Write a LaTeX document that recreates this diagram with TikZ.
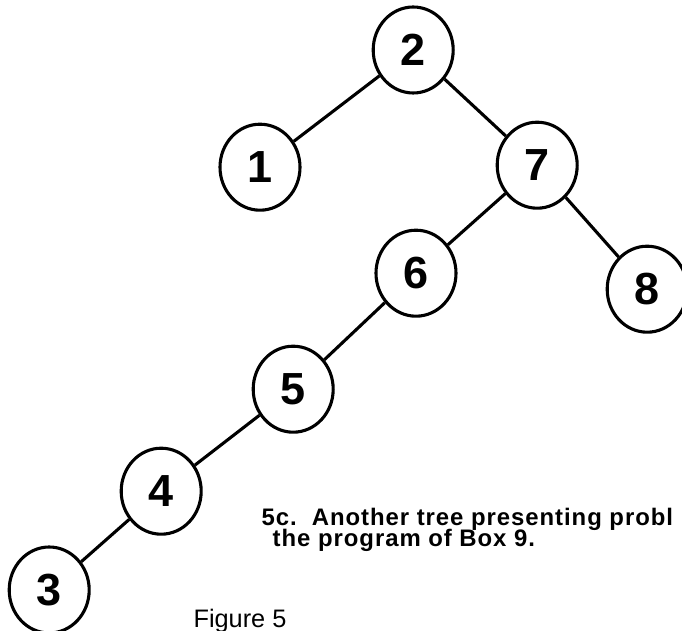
\documentclass[tikz,border=0pt]{standalone}
\usepackage{fontspec}
\setmainfont{Liberation Sans}
\newfontfamily\capfont[LetterSpace=4]{Liberation Sans}
\usetikzlibrary{shapes.geometric}
\tikzset{ c/.style = { inner sep = 0pt % caption line
        , font = \capfont\fontsize{17}{17}\selectfont\bfseries
        , anchor = base west
        }
        , f/.style = { inner sep = 0pt % figure number
        , font = \fontsize{18}{18}\selectfont
        , anchor = base west
        }
        }

\begin{document}
\begin{tikzpicture}[line width=2.2pt,
        node_style/.style={ellipse,draw=black,minimum width=2cm,minimum height=2.15cm,inner sep=0pt,font=\fontsize{32}{32}\selectfont\bfseries},
        edge_style/.style={draw=black,line width=2.2pt}]
        \useasboundingbox (0,0) rectangle (17.05,-15.775);

        \node [node_style](n2) at (10.33,-1.25) {2};
        \node [node_style](n1) at (6.50,-4.18) {1};
        \node [node_style](n7) at (13.43,-4.13) {7};
        \node [node_style](n6) at (10.40,-6.83) {6};
        \node [node_style](n8) at (16.18,-7.23) {8};
        \node [node_style](n5) at (7.33,-9.73) {5};
        \node [node_style](n4) at (4.03,-12.28) {4};
        \node [node_style](n3) at (1.23,-14.75) {3};

        \draw [edge_style] (n2) -- (n1);
        \draw [edge_style] (n2) -- (n7);
        \draw [edge_style] (n7) -- (n6);
        \draw [edge_style] (n7) -- (n8);
        \draw [edge_style] (n6) -- (n5);
        \draw [edge_style] (n5) -- (n4);
        \draw [edge_style] (n4) -- (n3);

        \node [c](cap1) at (6.50,-13.13) {5c.\ \ Another tree presenting probl};
        \node [c](cap2) at (6.78,-13.66) {the program of Box 9.};
        \node [f](fig) at (4.80,-15.70) {Figure 5};
        \end{tikzpicture}
\end{document}
